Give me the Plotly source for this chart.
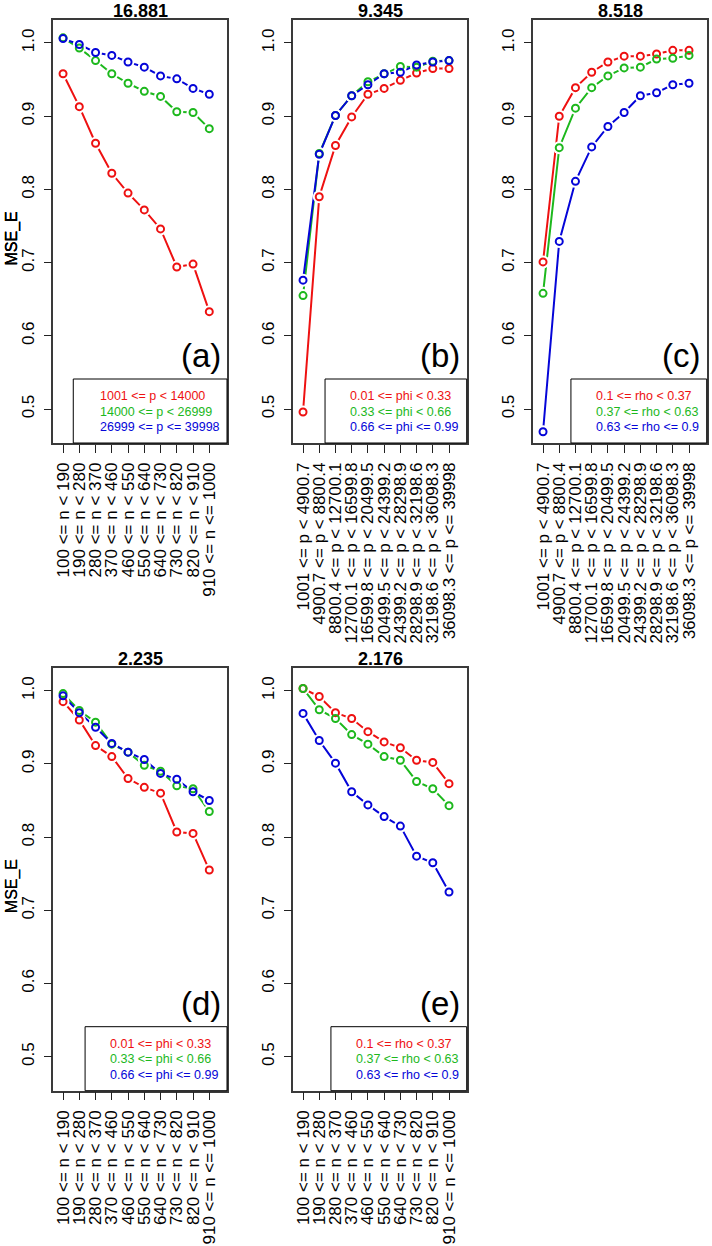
import plotly.graph_objects as go

# ---------------- data ----------------
n_labels = ["100 <= n < 190", "190 <= n < 280", "280 <= n < 370", "370 <= n < 460",
            "460 <= n < 550", "550 <= n < 640", "640 <= n < 730", "730 <= n < 820",
            "820 <= n < 910", "910 <= n <= 1000"]
p_labels = ["1001 <= p < 4900.7", "4900.7 <= p < 8800.4", "8800.4 <= p < 12700.1",
            "12700.1 <= p < 16599.8", "16599.8 <= p < 20499.5", "20499.5 <= p < 24399.2",
            "24399.2 <= p < 28298.9", "28298.9 <= p < 32198.6", "32198.6 <= p < 36098.3",
            "36098.3 <= p <= 39998"]

titles = ["16.881", "9.345", "8.518", "2.235", "2.176"]
panel_tags = ["(a)", "(b)", "(c)", "(d)", "(e)"]

legend_p = ["1001 <= p < 14000", "14000 <= p < 26999", "26999 <= p <= 39998"]
legend_phi = ["0.01 <= phi < 0.33", "0.33 <= phi < 0.66", "0.66 <= phi <= 0.99"]
legend_rho = ["0.1 <= rho < 0.37", "0.37 <= rho < 0.63", "0.63 <= rho <= 0.9"]

# panel (a): by n, groups of p
a_red = [0.958, 0.913, 0.863, 0.822, 0.795, 0.772, 0.746, 0.694, 0.698, 0.633]
a_green = [1.007, 0.993, 0.976, 0.958, 0.945, 0.934, 0.927, 0.906, 0.905, 0.883]
a_blue = [1.006, 0.998, 0.987, 0.983, 0.974, 0.967, 0.955, 0.951, 0.938, 0.930]
# panel (b): by p, groups of phi
b_red = [0.496, 0.790, 0.860, 0.899, 0.930, 0.938, 0.949, 0.959, 0.965, 0.965]
b_green = [0.655, 0.849, 0.901, 0.928, 0.947, 0.958, 0.968, 0.967, 0.975, 0.976]
b_blue = [0.676, 0.848, 0.901, 0.928, 0.943, 0.958, 0.960, 0.970, 0.974, 0.976]
# panel (c): by p, groups of rho
c_red = [0.701, 0.900, 0.939, 0.960, 0.974, 0.982, 0.982, 0.985, 0.990, 0.990]
c_green = [0.658, 0.857, 0.911, 0.939, 0.955, 0.966, 0.967, 0.978, 0.979, 0.983]
c_blue = [0.469, 0.729, 0.811, 0.858, 0.886, 0.905, 0.928, 0.932, 0.943, 0.945]
# panel (d): by n, groups of phi
d_red = [0.985, 0.960, 0.925, 0.910, 0.880, 0.868, 0.860, 0.807, 0.805, 0.755]
d_green = [0.996, 0.973, 0.957, 0.927, 0.916, 0.898, 0.890, 0.870, 0.866, 0.835]
d_blue = [0.993, 0.970, 0.950, 0.928, 0.916, 0.906, 0.887, 0.879, 0.862, 0.850]
# panel (e): by n, groups of rho
e_red = [1.003, 0.992, 0.970, 0.962, 0.944, 0.930, 0.922, 0.905, 0.902, 0.873]
e_green = [1.003, 0.974, 0.962, 0.940, 0.927, 0.910, 0.905, 0.876, 0.866, 0.843]
e_blue = [0.969, 0.932, 0.901, 0.862, 0.844, 0.828, 0.815, 0.774, 0.765, 0.725]

y_ticks = [0.5, 0.6, 0.7, 0.8, 0.9, 1.0]
y_ticktext = ["0.5", "0.6", "0.7", "0.8", "0.9", "1.0"]

# ---------------- style ----------------
W, H = 712, 1246
FONT = "Liberation Sans, Arial, sans-serif"
COLORS = ["#EE1111", "#1DB81D", "#0505D8"]
BOX = "#3a3a3a"

panels = [
    dict(series=[a_red, a_green, a_blue], labels=n_labels, legend=legend_p, col=0, row=0, lx=0.115, tx=0.256),
    dict(series=[b_red, b_green, b_blue], labels=p_labels, legend=legend_phi, col=1, row=0, lx=0.183, tx=0.317),
    dict(series=[c_red, c_green, c_blue], labels=p_labels, legend=legend_rho, col=2, row=0, lx=0.217, tx=0.351),
    dict(series=[d_red, d_green, d_blue], labels=n_labels, legend=legend_phi, col=0, row=1, lx=0.183, tx=0.317),
    dict(series=[e_red, e_green, e_blue], labels=n_labels, legend=legend_rho, col=1, row=1, lx=0.217, tx=0.351),
]

col_px = [(53.3, 227.0), (293.3, 466.7), (533.3, 706.7)]
row_px = [(20.0, 443.0), (667.7, 1090.7)]

def esc(s):
    return s.replace("<", "&lt;")

fig = go.Figure()
layout = dict(
    width=W, height=H, margin=dict(l=0, r=0, t=0, b=0, autoexpand=False),
    paper_bgcolor="white", plot_bgcolor="white", showlegend=False,
    font=dict(family=FONT, color="black"),
)
annotations = []
shapes = []
xs = list(range(1, 11))

for i, p in enumerate(panels):
    k = "" if i == 0 else str(i + 1)
    xa, ya = "x" + k, "y" + k
    x0p, x1p = col_px[p["col"]]
    y0p, y1p = row_px[p["row"]]
    layout["xaxis" + k] = dict(
        domain=[x0p / W, x1p / W], range=[0.4, 11.09], anchor=ya,
        tickmode="array", tickvals=xs, ticktext=[esc(t) for t in p["labels"]],
        tickangle=-90, ticks="outside", ticklen=8, tickwidth=1.2, tickcolor="#222",
        ticklabelstandoff=3,
        tickfont=dict(size=17, family=FONT, color="black"),
        showline=True, linecolor=BOX, linewidth=1.5, mirror=True, automargin=False,
        showgrid=False, zeroline=False, fixedrange=True,
    )
    layout["yaxis" + k] = dict(
        domain=[1 - y1p / H, 1 - y0p / H], range=[0.4536, 1.0314], anchor=xa,
        tickmode="array", tickvals=y_ticks, ticktext=y_ticktext,
        tickangle=-90, ticks="outside", ticklen=8, tickwidth=1.2, tickcolor="#222",
        ticklabelstandoff=3,
        tickfont=dict(size=17, family=FONT, color="black"),
        showline=True, linecolor=BOX, linewidth=1.5, mirror=True, automargin=False,
        showgrid=False, zeroline=False, fixedrange=True,
    )
    # lines
    for s, c in zip(p["series"], COLORS):
        fig.add_trace(go.Scatter(x=xs, y=s, mode="lines", xaxis=xa, yaxis=ya,
                                 line=dict(color=c, width=2), hoverinfo="skip"))
    # masks (emulate R type="b" gaps)
    for s in p["series"]:
        fig.add_trace(go.Scatter(x=xs, y=s, mode="markers", xaxis=xa, yaxis=ya,
                                 marker=dict(color="white", size=13, line=dict(width=0)),
                                 hoverinfo="skip"))
    # open circles
    for s, c in zip(p["series"], COLORS):
        fig.add_trace(go.Scatter(x=xs, y=s, mode="markers", xaxis=xa, yaxis=ya,
                                 marker=dict(symbol="circle-open", color=c, size=7,
                                             line=dict(width=2, color=c))))
    # title
    annotations.append(dict(text="<b>%s</b>" % titles[i], xref=xa + " domain", yref=ya + " domain",
                            x=0.5, y=1, xanchor="center", yanchor="bottom", yshift=-3,
                            showarrow=False, font=dict(size=18, family=FONT, color="black")))
    # y label
    annotations.append(dict(text="MSE_E", xref="paper", yref="paper",
                            x=12 / W, y=1 - ((y0p + y1p) / 2 + 7) / H,
                            xanchor="center", yanchor="middle", textangle=-90,
                            showarrow=False, font=dict(size=16, family=FONT, color="black")))
    # panel tag
    annotations.append(dict(text=panel_tags[i], xref=xa + " domain", yref=ya + " domain",
                            x=0.975, y=0.206, xanchor="right", yanchor="middle",
                            showarrow=False, font=dict(size=33, family=FONT, color="black")))
    # legend box
    shapes.append(dict(type="rect", xref=xa + " domain", yref=ya + " domain",
                       x0=p["lx"], x1=1, y0=0, y1=0.1513,
                       line=dict(color="black", width=1), fillcolor="white", layer="above"))
    for j, (txt, c) in enumerate(zip(p["legend"], COLORS)):
        annotations.append(dict(text=esc(txt), xref=xa + " domain", yref=ya + " domain",
                                x=p["tx"], y=[0.111, 0.074, 0.037][j], xanchor="left", yanchor="middle",
                                showarrow=False, font=dict(size=12.5, family=FONT, color=c)))

layout["annotations"] = annotations
layout["shapes"] = shapes
fig.update_layout(**layout)
fig.write_html("out.html", config={"displayModeBar": False},
               post_script="document.body.style.margin='0';document.body.style.overflow='hidden';")
